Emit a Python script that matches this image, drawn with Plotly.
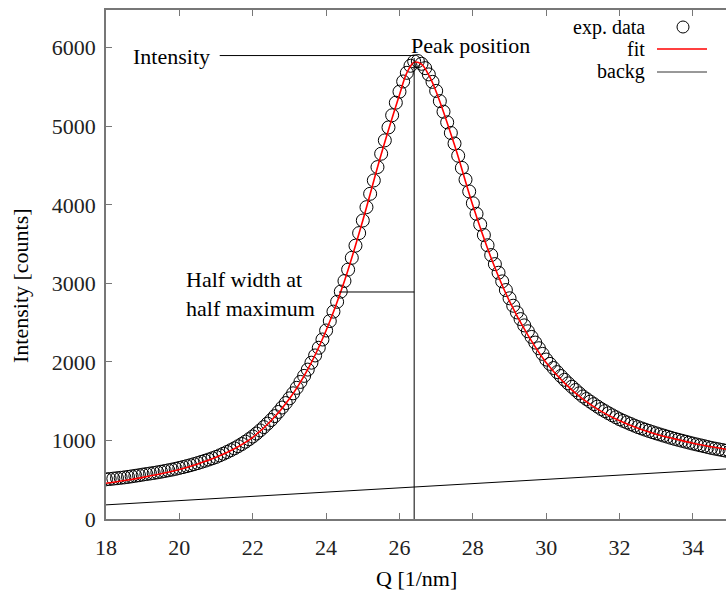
import numpy as np
import plotly.graph_objects as go

# ---------------- data ----------------
q_exp = np.round(np.linspace(18.0, 35.0, 171), 1)
i_exp = [
    505, 509, 514, 519, 524, 530, 536, 543, 550, 557,
    565, 572, 579, 586, 594, 602, 611, 620, 629, 639,
    650, 661, 673, 685, 698, 712, 727, 742, 757, 773,
    790, 810, 831, 853, 876, 900, 926, 954, 984, 1016,
    1050, 1088, 1128, 1170, 1214, 1260, 1310, 1363, 1419, 1476,
    1536, 1600, 1670, 1745, 1822, 1902, 1990, 2082, 2180, 2285,
    2400, 2520, 2640, 2765, 2895, 3030, 3175, 3325, 3480, 3640,
    3800, 3970, 4140, 4310, 4480, 4650, 4820, 4985, 5140, 5300,
    5440, 5570, 5680, 5770, 5825, 5830, 5795, 5740, 5660, 5565,
    5450, 5320, 5185, 5050, 4915, 4780, 4625, 4470, 4320, 4170,
    4020, 3885, 3750, 3615, 3485, 3360, 3245, 3135, 3025, 2915,
    2810, 2715, 2630, 2545, 2465, 2390, 2318, 2246, 2174, 2102,
    2030, 1975, 1922, 1870, 1820, 1772, 1727, 1684, 1642, 1600,
    1560, 1527, 1494, 1462, 1431, 1400, 1373, 1346, 1320, 1295,
    1270, 1249, 1229, 1209, 1189, 1170, 1153, 1137, 1121, 1105,
    1090, 1076, 1062, 1048, 1034, 1020, 1008, 996, 984, 972,
    960, 949, 938, 927, 916, 905, 896, 887, 878, 869,
    860,
]

q_fit = [18.0, 18.5, 19.0, 19.5, 20.0, 20.5, 21.0, 21.5, 22.0, 22.5, 23.0, 23.5,
         24.0, 24.5, 25.0, 25.5, 26.0, 26.2, 26.4, 26.6, 26.8, 27.0, 27.5, 28.0,
         28.5, 29.0, 29.5, 30.0, 30.5, 31.0, 31.5, 32.0, 32.5, 33.0, 33.5, 34.0,
         34.5, 35.0]
i_fit = [455, 490, 530, 575, 630, 700, 785, 895, 1040, 1250, 1530, 1905,
         2400, 3030, 3800, 4640, 5400, 5680, 5815, 5790, 5650, 5440, 4760, 3990,
         3320, 2770, 2340, 1990, 1730, 1525, 1370, 1250, 1155, 1080, 1020, 965,
         920, 880]

q_bg = [18.0, 35.0]
i_bg = [180, 640]

x_ticks = [18, 20, 22, 24, 26, 28, 30, 32, 34]
y_ticks = [0, 1000, 2000, 3000, 4000, 5000, 6000]

# annotation guide lines
peak_q = 26.4
peak_line_top = 5870
intensity_level = 5900
intensity_line_start = 21.1
half_level = 2890
half_line_start = 24.35

# ---------------- layout geometry ----------------
W, H = 726, 594
ML, MR, MT, MB = 106, 0, 10, 75
PW, PH = W - ML - MR, H - MT - MB
FONT = "Liberation Serif, Times New Roman, serif"
FS = 22
LFS = 20


def px(x):
    return (x - ML) / PW


def py(y):
    return (H - MB - y) / PH


fig = go.Figure()
fig.add_trace(go.Scatter(x=q_exp, y=i_exp, mode="markers",
                         marker=dict(symbol="circle-open", size=13, color="black",
                                     line=dict(width=1, color="black")),
                         name="exp. data", showlegend=False))
fig.add_trace(go.Scatter(x=q_fit, y=i_fit, mode="lines", line_shape="spline",
                         line=dict(color="#ff0000", width=1.6),
                         name="fit", showlegend=False))
fig.add_trace(go.Scatter(x=q_bg, y=i_bg, mode="lines",
                         line=dict(color="black", width=1),
                         name="backg", showlegend=False))

# guide lines
fig.add_shape(type="line", x0=peak_q, x1=peak_q, y0=0, y1=peak_line_top,
              line=dict(color="black", width=1))
fig.add_shape(type="line", x0=intensity_line_start, x1=peak_q,
              y0=intensity_level, y1=intensity_level,
              line=dict(color="black", width=1))
fig.add_shape(type="line", x0=half_line_start, x1=peak_q,
              y0=half_level, y1=half_level,
              line=dict(color="black", width=1))

annos = []
annos.append(dict(text="Intensity", x=px(131), y=py(57), xref="paper", yref="paper",
                  xanchor="left", yanchor="middle", showarrow=False))
annos.append(dict(text="Peak position", x=px(409), y=py(45), xref="paper", yref="paper",
                  xanchor="left", yanchor="middle", showarrow=False))
annos.append(dict(text="Half width at<br>half maximum", x=px(184), y=py(294),
                  xref="paper", yref="paper", xanchor="left", yanchor="middle",
                  align="left", showarrow=False))
# y title
annos.append(dict(text="Intensity [counts]", x=px(20), y=py(286), xref="paper",
                  yref="paper", xanchor="center", yanchor="middle", textangle=-90,
                  showarrow=False))
# x title
annos.append(dict(text="Q [1/nm]", x=px(416), y=py(578), xref="paper",
                  yref="paper", xanchor="center", yanchor="middle", showarrow=False))

# legend (text right-aligned, sample on the right)
leg_rows = [("exp. data", 27), ("fit", 49), ("backg", 72)]
for label, yy in leg_rows:
    annos.append(dict(text=label, x=px(646), y=py(yy), xref="paper", yref="paper",
                      xanchor="right", yanchor="middle", showarrow=False,
                      font=dict(size=LFS), borderpad=0))
fig.add_shape(type="circle", xref="paper", yref="paper", xsizemode="pixel",
              ysizemode="pixel", xanchor=px(683), yanchor=py(27),
              x0=-6, x1=6, y0=-6, y1=6, line=dict(color="black", width=1))
fig.add_shape(type="line", xref="paper", yref="paper", x0=px(657), x1=px(707),
              y0=py(49), y1=py(49), line=dict(color="#ff0000", width=1.6))
fig.add_shape(type="line", xref="paper", yref="paper", x0=px(657), x1=px(707),
              y0=py(72), y1=py(72), line=dict(color="#333333", width=1))

fig.update_layout(
    width=W, height=H,
    margin=dict(l=ML, r=MR, t=MT, b=MB, pad=0),
    paper_bgcolor="white", plot_bgcolor="white",
    font=dict(family=FONT, size=FS, color="black"),
    annotations=annos,
    showlegend=False,
)
fig.update_xaxes(range=[18, 34.9], tickvals=x_ticks, ticktext=[str(v) for v in x_ticks],
                 ticks="inside", ticklen=6, tickcolor="#777777", tickwidth=1,
                 showline=True, linecolor="#777777", linewidth=2, mirror="ticks",
                 showgrid=False, zeroline=False, ticklabelstandoff=8,
                 tickfont=dict(family=FONT, size=FS, color="#222222"))
fig.update_yaxes(range=[0, 6480], tickvals=y_ticks, ticktext=[str(v) for v in y_ticks],
                 ticks="inside", ticklen=6, tickcolor="#777777", tickwidth=1,
                 showline=True, linecolor="#777777", linewidth=1.5, mirror=False,
                 showgrid=False, zeroline=False, ticklabelstandoff=4,
                 tickfont=dict(family=FONT, size=FS, color="#222222"))

fig.write_html("out.html")
